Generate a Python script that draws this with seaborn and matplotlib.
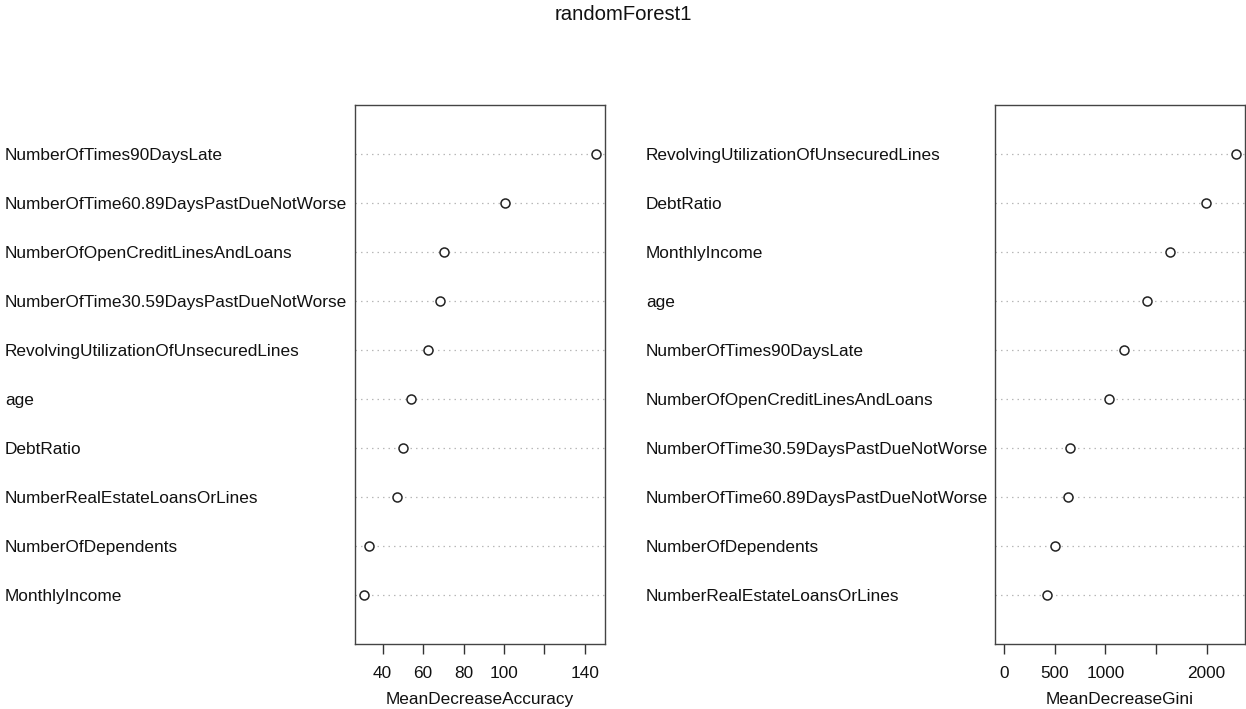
import matplotlib
matplotlib.use("Agg")
import matplotlib.pyplot as plt
import matplotlib.transforms as mtransforms
import seaborn as sns
import pandas as pd

# ---- data (ordered top to bottom as drawn) ----
acc_features = ["NumberOfTimes90DaysLate", "NumberOfTime60.89DaysPastDueNotWorse",
                "NumberOfOpenCreditLinesAndLoans", "NumberOfTime30.59DaysPastDueNotWorse",
                "RevolvingUtilizationOfUnsecuredLines", "age", "DebtRatio",
                "NumberRealEstateLoansOrLines", "NumberOfDependents", "MonthlyIncome"]
acc_values = [145.4, 100.7, 70.4, 68.4, 62.5, 54.0, 50.1, 47.1, 33.3, 30.9]

gini_features = ["RevolvingUtilizationOfUnsecuredLines", "DebtRatio", "MonthlyIncome", "age",
                 "NumberOfTimes90DaysLate", "NumberOfOpenCreditLinesAndLoans",
                 "NumberOfTime30.59DaysPastDueNotWorse", "NumberOfTime60.89DaysPastDueNotWorse",
                 "NumberOfDependents", "NumberRealEstateLoansOrLines"]
gini_values = [2289, 1991, 1634, 1416, 1188, 1039, 652, 632, 506, 424]

acc_ticks = [40, 60, 80, 100, 120, 140]
acc_ticklabels = ["40", "60", "80", "100", "", "140"]
gini_ticks = [0, 500, 1000, 1500, 2000]
gini_ticklabels = ["0", "500", "1000", "", "2000"]

title = "randomForest1"
acc_xlabel = "MeanDecreaseAccuracy"
gini_xlabel = "MeanDecreaseGini"

sns.set_style("white")
plt.rcParams["font.family"] = ["Liberation Sans", "DejaVu Sans"]
FS = 12.4

W, H = 1246, 709
fig = plt.figure(figsize=(W / 100, H / 100), dpi=100)

def panel(ax_left_px, label_left_px, feats, vals, xmin, ticks, ticklabels, xlabel):
    ax = fig.add_axes([ax_left_px / W, (H - 644) / H, 250 / W, 539 / H])
    n = len(feats)
    df = pd.DataFrame({"feature": feats, "value": vals,
                       "pos": [n - i for i in range(n)]})
    lo = xmin if xmin is not None else min(vals)
    hi = max(vals)
    pad = 0.04 * (hi - lo)
    ax.set_xlim(lo - pad, hi + pad)
    ax.set_ylim(0, n + 1)
    for p in df["pos"]:
        ax.axhline(p, color="#b8b8b8", lw=0.9, ls=(0, (1.2, 3.2)), zorder=1)
    sns.scatterplot(data=df, x="value", y="pos", ax=ax, marker="o", s=42,
                    facecolor="white", edgecolor="#222222", linewidth=1.1, zorder=3,
                    legend=False)
    ax.set_yticks([])
    ax.set_ylabel("")
    ax.set_xticks(ticks)
    ax.set_xticklabels(ticklabels, fontsize=FS, color="#111111")
    ax.tick_params(axis="x", direction="out", length=7.5, width=1.0, pad=8,
                   color="#333333", bottom=True)
    ax.set_xlabel(xlabel, fontsize=FS, labelpad=8, color="#111111")
    for s in ax.spines.values():
        s.set_color("#444444")
        s.set_linewidth(1.0)
        s.set_visible(True)
    tr = mtransforms.blended_transform_factory(fig.transFigure, ax.transData)
    for f, p in zip(df["feature"], df["pos"]):
        ax.text(label_left_px / W, p, f, transform=tr, ha="left", va="center_baseline",
                fontsize=FS, color="#111111")
    return ax

panel(355, 5, acc_features, acc_values, None, acc_ticks, acc_ticklabels, acc_xlabel)
panel(995, 646, gini_features, gini_values, 0, gini_ticks, gini_ticklabels, gini_xlabel)

fig.text(0.5, 1 - 20 / H, title, ha="center", va="baseline", fontsize=14.6, color="#111111")

fig.savefig("out.png", dpi=100)
